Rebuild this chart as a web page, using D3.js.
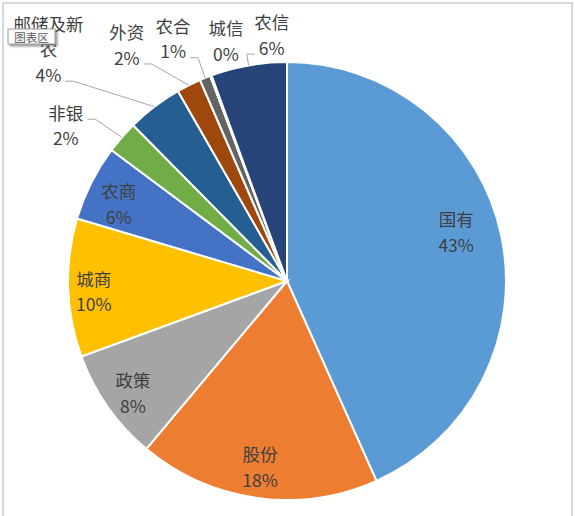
<!DOCTYPE html>
<html lang="zh">
<head>
  <meta charset="UTF-8" />
  <title>银行类型占比</title>
  <script src="https://cdn.jsdelivr.net/npm/d3@7"></script>
  <style>
    body
      {
      margin: 0;
      background-color: #ffffff;
      }
    svg text
      {
      font-family: "Noto Sans CJK SC", "Noto Sans", sans-serif;
      }
  </style>
</head>
<body>

<div id="chart"></div>

<script>
const categories = ["国有", "股份", "政策", "城商", "农商", "非银", "邮储及新农", "外资", "农合", "城信", "农信"];
const shares = [43.3, 17.8, 8.3, 10.2, 5.6, 2.4, 4.1, 1.8, 0.8, 0.1, 5.6];
const colors = ["#5B9BD5", "#ED7D31", "#A5A5A5", "#FFC000", "#4472C4", "#70AD47",
                "#255E91", "#9E480E", "#636363", "#997300", "#264478"];

// labels that sit outside the pie (the rest go inside)
const outsideLabels = ["非银", "邮储及新农", "外资", "农合", "城信", "农信"];
const noLeader = ["城信"];
// hand offsets so the labels land where the original put them
const labelNudge = {
  "国有": [-15, -10], "股份": [-1, -1], "政策": [0, 3], "城商": [-5, 4], "农商": [0, 7],
  "非银": [-56, -12], "邮储及新农": [-106, -58], "外资": [-62, -41],
  "农合": [-32, -40], "城信": [15, -35], "农信": [23, -31]
};

const width = 575, height = 516;
const cx = 287, cy = 281, radius = 219;
const lineGap = 25.5;

const data = categories.map((c, i) => ({ name: c, value: shares[i], color: colors[i] }));
const total = d3.sum(shares);
const pct = d3.format(".0%");

const svg = d3.select("#chart")
  .append("svg")
  .attr("width", width)
  .attr("height", height);

// chart area border
svg.append("rect")
  .attr("x", 3)
  .attr("y", 3)
  .attr("width", 569)
  .attr("height", height + 20)
  .attr("fill", "#ffffff")
  .attr("stroke", "#d9d9d9")
  .attr("stroke-width", 2);

const g = svg.append("g")
  .attr("transform", `translate(${cx},${cy})`);

const pie = d3.pie()
  .sort(null)
  .value(d => d.value);

const arc = d3.arc()
  .innerRadius(0)
  .outerRadius(radius);

const labelArc = d3.arc()
  .innerRadius(radius * 0.86)
  .outerRadius(radius * 0.86);

const edgeArc = d3.arc()
  .innerRadius(radius)
  .outerRadius(radius);

const arcs = pie(data);

g.selectAll("path.slice")
  .data(arcs)
  .join("path")
  .attr("class", "slice")
  .attr("d", arc)
  .attr("fill", d => d.data.color)
  .attr("stroke", "#ffffff")
  .attr("stroke-width", 2);

function splitName(name) {
  const lines = [];
  for (let i = 0; i < name.length; i += 4) lines.push(name.slice(i, i + 4));
  return lines;
}

const leaders = g.append("g");

arcs.forEach(d => {
  const name = d.data.name;
  const outside = outsideLabels.includes(name);
  const anchor = outside ? edgeArc.centroid(d) : labelArc.centroid(d);
  const nudge = labelNudge[name] || [0, 0];
  const lx = anchor[0] + nudge[0];
  const ly = anchor[1] + nudge[1];

  const lines = splitName(name).concat([pct(d.data.value / total)]);
  const lab = g.append("g").attr("class", "label");
  const texts = lines.map((t, i) => lab.append("text")
    .attr("x", lx)
    .attr("y", ly + (i - (lines.length - 1) / 2) * lineGap)
    .attr("text-anchor", "middle")
    .attr("dominant-baseline", "central")
    .attr("font-size", 17.5)
    .attr("fill", "#404040")
    .text(t));

  if (!outside || noLeader.includes(name)) return;

  // leader line from slice edge to the label
  const p = anchor;
  const box = lab.node().getBBox();
  const bottom = box.y + box.height;
  let attachY, halfW;
  if (p[1] > bottom) {
    attachY = ly + (lines.length - 1) / 2 * lineGap + 7;
    halfW = texts[texts.length - 1].node().getComputedTextLength() / 2;
  } else {
    attachY = ly - 6;
    halfW = d3.max(texts, t => t.node().getComputedTextLength()) / 2;
  }
  const dir = lx > p[0] ? -1 : 1;
  const endX = lx + dir * (halfW + 4);
  const elbowX = endX + dir * 8;

  leaders.append("path")
    .attr("d", d3.line()([p, [elbowX, attachY], [endX, attachY]]))
    .attr("fill", "none")
    .attr("stroke", "#a6a6a6")
    .attr("stroke-width", 1);
});

// hover hint box left over in the original screenshot
const defs = svg.append("defs");
const shadow = defs.append("filter")
  .attr("id", "shadow")
  .attr("x", "-20%").attr("y", "-30%")
  .attr("width", "150%").attr("height", "180%");
shadow.append("feDropShadow")
  .attr("dx", 2).attr("dy", 2)
  .attr("stdDeviation", 1.2)
  .attr("flood-color", "#555555")
  .attr("flood-opacity", 0.6);

const tip = svg.append("g");
tip.append("rect")
  .attr("x", 8)
  .attr("y", 29)
  .attr("width", 47)
  .attr("height", 15)
  .attr("fill", "#fbfbfb")
  .attr("stroke", "#a0a0a0")
  .attr("stroke-width", 1)
  .attr("filter", "url(#shadow)");
tip.append("text")
  .attr("x", 31.5)
  .attr("y", 36.5)
  .attr("text-anchor", "middle")
  .attr("dominant-baseline", "central")
  .attr("font-size", 11.5)
  .attr("fill", "#5a5a5a")
  .text("图表区");
</script>
</body>
</html>
